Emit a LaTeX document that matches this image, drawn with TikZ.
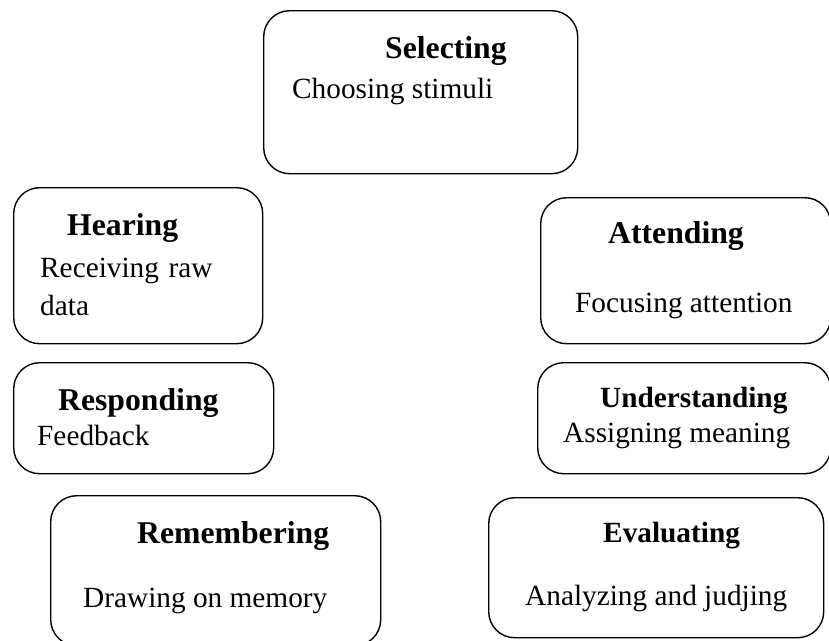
\documentclass[tikz,border=0pt]{standalone}
\usepackage{fontspec}
\setmainfont{Liberation Serif}
\begin{document}
\begin{tikzpicture}[x=1pt,y=-1pt,
  box/.style={draw, line width=1.4pt, rounded corners=26pt, inner sep=0pt, anchor=north west},
  txt/.style={anchor=base west, inner sep=0pt, font=\fontsize{29.3}{35}\selectfont},
  ttl/.style={anchor=base west, inner sep=0pt, font=\fontsize{31.7}{38}\selectfont\bfseries},
  ttlsm/.style={anchor=base west, inner sep=0pt, font=\fontsize{29.3}{35}\selectfont\bfseries}]
\useasboundingbox (0,0) rectangle (829,640);
% boxes
\node[box, minimum width=314pt, minimum height=163pt] (selbox) at (263,10) {};
\node[box, minimum width=249pt, minimum height=156pt] (hearbox) at (13,187) {};
\node[box, minimum width=260pt, minimum height=111pt] (respbox) at (13,362) {};
\node[box, minimum width=330pt, minimum height=150pt] (rembox) at (50,495) {};
\node[box, minimum width=290pt, minimum height=146pt] (attbox) at (540,197) {};
\node[box, minimum width=293pt, minimum height=111pt] (undbox) at (537,362) {};
\node[box, minimum width=335pt, minimum height=140pt] (evalbox) at (488,497) {};
% texts
\node[ttl] (selt) at (385,58) {Selecting};
\node[txt] (seld) at (292,98) {Choosing stimuli};
\node[ttl] (heart) at (67,235) {Hearing};
\node[txt] (heard1) at (40,277) {Receiving\hspace{0.33em}raw};
\node[txt] (heard2) at (40,315) {data};
\node[ttl] (respt) at (58,410) {Responding};
\node[txt] (respd) at (37,445) {Feedback};
\node[ttl] (remt) at (137,543) {Remembering};
\node[txt] (remd) at (83,607) {Drawing on memory};
\node[ttl] (attt) at (608,243) {Attending};
\node[txt] (attd) at (575,312) {Focusing attention};
\node[ttlsm] (undt) at (600,407) {Understanding};
\node[txt] (undd) at (563,442) {Assigning meaning};
\node[ttlsm] (evalt) at (603,542) {Evaluating};
\node[txt] (evald) at (525,605) {Analyzing and judjing};
\end{tikzpicture}
\end{document}
